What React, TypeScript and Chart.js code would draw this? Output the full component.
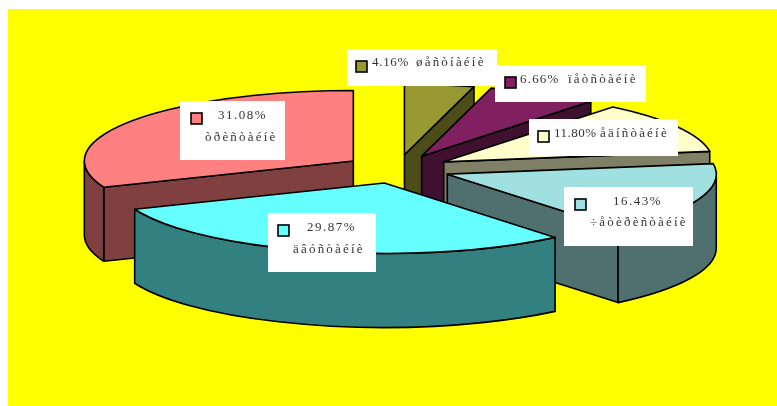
import React, { useEffect, useRef } from "react";
import { Chart, PieController, ArcElement } from "chart.js";

// ---- data -------------------------------------------------------------
const categories = ["òðèñòàéíè", "øåñòíàéíè", "ïåòñòàéíè", "åäíñòàéíè", "÷åòèðèñòàéíè", "äâóñòàéíè"];
const shares = [31.08, 4.16, 6.66, 11.8, 16.43, 29.87];
const valueLabels = ["31.08%", "4.16%", "6.66%", "11.80%", "16.43%", "29.87%"];

// ---- styles / layout --------------------------------------------------
const topColors = ["#FF8080", "#999933", "#802060", "#FFFFCC", "#A0E0E0", "#66FFFF"];
const sideColors = ["#804040", "#4D4D19", "#401030", "#808066", "#507070", "#338080"];
const W = 769;
const H = 397;
const OFFSET_X = 8;
const OFFSET_Y = 9;
const RADIUS = 269;
const EXPLODE = 53.3;
const EXPLODE_SQUASH = 0.27;
const SQUASH = 0.262;
const DEPTH = 74;
const CENTER_Y = 160;
const LINE = 1.6;
const START_ROTATION = -111.888;
const NAME_SPACING = 2.2;

// screen-space box: x, y, w, h, key x/y, value text x/y, name text x/y, value letter spacing
type Box = { x: number; y: number; w: number; h: number; kx: number; ky: number; t1: number; y1: number; t2: number; y2: number; vs: number };
const boxes: Box[] = [
  { x: 180, y: 101, w: 105, h: 59, kx: 191, ky: 113, t1: 218, y1: 116, t2: 205, y2: 138, vs: 1.5 },
  { x: 347, y: 49, w: 150, h: 37, kx: 356, ky: 61, t1: 372, y1: 63, t2: 416, y2: 63, vs: 0.7 },
  { x: 495, y: 65, w: 151, h: 37, kx: 505, ky: 77, t1: 520, y1: 80, t2: 568, y2: 80, vs: 1.2 },
  { x: 529, y: 119, w: 149, h: 37, kx: 538, ky: 131, t1: 554, y1: 134, t2: 600, y2: 134, vs: 0.5 },
  { x: 564, y: 187, w: 129, h: 59, kx: 575, ky: 199, t1: 613, y1: 202, t2: 590, y2: 223, vs: 1.5 },
  { x: 268, y: 213, w: 108, h: 59, kx: 278, ky: 225, t1: 307, y1: 228, t2: 293, y2: 250, vs: 1.5 },
];

class Pie3DController extends PieController {
  static id = "pie3d";
  static defaults = PieController.defaults;
  static overrides = PieController.overrides;

  draw() {
    const chart = (this as any).chart as Chart;
    const ctx = chart.ctx;
    const arcs = (this as any).getMeta().data as any[];
    arcs.forEach((arc, i) => {
      const s: number = arc.startAngle;
      const e: number = arc.endAngle;
      const mid = (s + e) / 2;
      const R: number = arc.outerRadius;
      const ax = arc.x + Math.cos(mid) * EXPLODE;
      const ay = CENTER_Y + Math.sin(mid) * EXPLODE * EXPLODE_SQUASH;
      const px = (t: number) => ax + R * Math.cos(t);
      const py = (t: number) => ay + R * SQUASH * Math.sin(t);

      ctx.save();
      ctx.lineWidth = LINE;
      ctx.lineJoin = "round";
      ctx.strokeStyle = "#000";
      ctx.fillStyle = sideColors[i];

      const radial = (t: number) => {
        ctx.beginPath();
        ctx.moveTo(ax, ay);
        ctx.lineTo(px(t), py(t));
        ctx.lineTo(px(t), py(t) + DEPTH);
        ctx.lineTo(ax, ay + DEPTH);
        ctx.closePath();
        ctx.fill();
        ctx.stroke();
      };
      if (Math.cos(s) < -0.001) radial(s);
      if (Math.cos(e) > 0.001) radial(e);

      for (let n = -1; n <= 1; n++) {
        const lo = Math.max(s, 2 * Math.PI * n);
        const hi = Math.min(e, 2 * Math.PI * n + Math.PI);
        if (hi <= lo) continue;
        ctx.beginPath();
        ctx.ellipse(ax, ay, R, R * SQUASH, 0, lo, hi);
        ctx.ellipse(ax, ay + DEPTH, R, R * SQUASH, 0, hi, lo, true);
        ctx.closePath();
        ctx.fill();
        ctx.stroke();
      }

      // top face: the library's own arc, squashed and moved out
      ctx.save();
      ctx.translate(ax, ay);
      ctx.scale(1, SQUASH);
      ctx.translate(-arc.x, -arc.y);
      arc.draw(ctx);
      ctx.restore();

      ctx.beginPath();
      ctx.moveTo(ax, ay);
      ctx.ellipse(ax, ay, R, R * SQUASH, 0, s, e);
      ctx.closePath();
      ctx.stroke();
      ctx.restore();
    });
  }
}

Chart.register(Pie3DController, ArcElement);

const labelPlugin = {
  id: "sliceLabels",
  afterDatasetsDraw(chart: Chart) {
    const ctx = chart.ctx;
    ctx.save();
    ctx.translate(-OFFSET_X, -OFFSET_Y);
    boxes.forEach((b, i) => {
      ctx.fillStyle = "#FFFFFF";
      ctx.fillRect(b.x, b.y, b.w, b.h);
      ctx.fillStyle = topColors[i];
      ctx.strokeStyle = "#000";
      ctx.lineWidth = 1.6;
      ctx.fillRect(b.kx, b.ky, 11, 11);
      ctx.strokeRect(b.kx, b.ky, 11, 11);
      ctx.fillStyle = "#333";
      ctx.textBaseline = "middle";
      ctx.textAlign = "left";
      ctx.font = '13px "Liberation Serif"';
      (ctx as any).letterSpacing = b.vs + "px";
      ctx.fillText(valueLabels[i], b.t1, b.y1);
      (ctx as any).letterSpacing = NAME_SPACING + "px";
      ctx.fillText(categories[i], b.t2, b.y2);
      (ctx as any).letterSpacing = "0px";
    });
    ctx.restore();
  },
};

export default function App() {
  const ref = useRef<HTMLCanvasElement>(null);
  useEffect(() => {
    const chart = new Chart(ref.current!, {
      type: "pie3d" as any,
      data: {
        labels: categories,
        datasets: [{ data: shares, backgroundColor: topColors, borderWidth: 0 }],
      },
      options: {
        animation: false,
        responsive: false,
        rotation: START_ROTATION,
        radius: RADIUS,
        layout: { padding: { left: 10 } },
        events: [],
        plugins: { legend: { display: false }, tooltip: { enabled: false } },
      } as any,
      plugins: [labelPlugin],
    });
    return () => chart.destroy();
  }, []);
  return (
    <div style={{ position: "fixed", left: OFFSET_X, top: OFFSET_Y, width: 900, height: 500, background: "#FFFF00" }}>
      <div style={{ width: W, height: H }}>
        <canvas ref={ref} width={W} height={H} style={{ display: "block", width: W, height: H }} />
      </div>
    </div>
  );
}
